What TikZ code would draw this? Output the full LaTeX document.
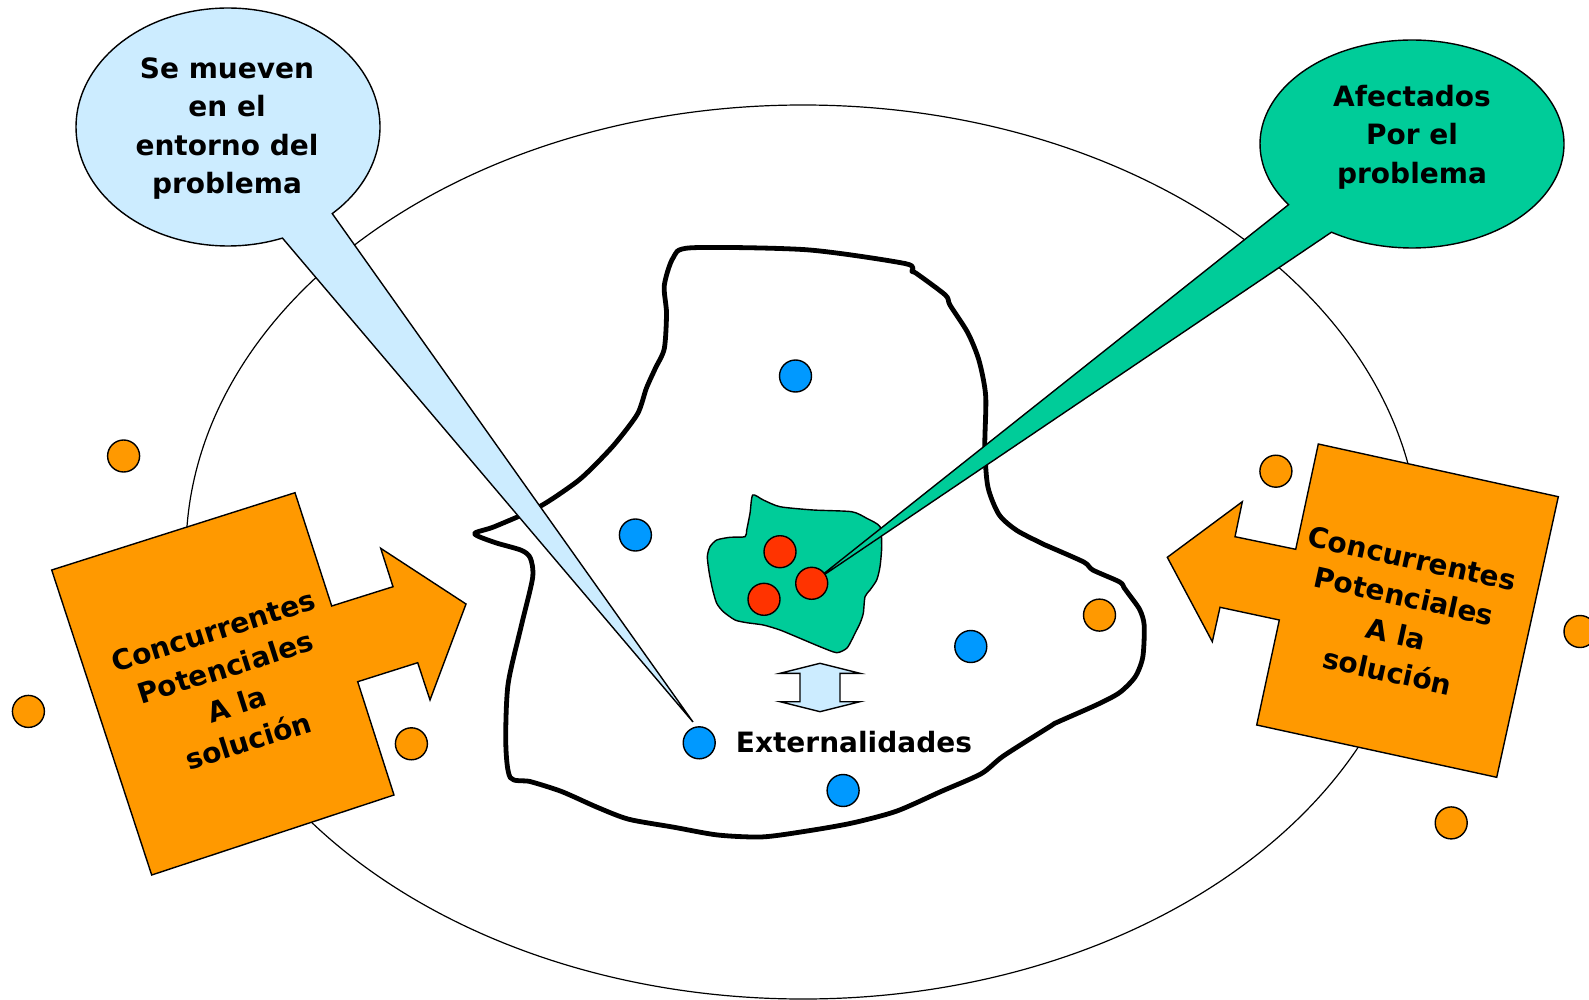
\documentclass[tikz,border=0pt]{standalone}
\usepackage{fontspec}
\setmainfont{DejaVu Sans}
\definecolor{callblue}{HTML}{CCECFF}
\definecolor{callgreen}{HTML}{00CC99}
\definecolor{orng}{HTML}{FF9900}
\definecolor{dotblue}{HTML}{0099FF}
\definecolor{dotred}{HTML}{FF3300}
\tikzset{
  outl/.style={draw=black,line width=1.4pt,line join=miter},
  bluedot/.style={circle,draw=black,line width=1.4pt,fill=dotblue,minimum size=32pt,inner sep=0pt},
  orangedot/.style={circle,draw=black,line width=1.4pt,fill=orng,minimum size=32pt,inner sep=0pt},
  reddot/.style={circle,draw=black,line width=1.4pt,fill=dotred,minimum size=32pt,inner sep=0pt},
  lbl/.style={font=\fontsize{28}{38.5}\selectfont\bfseries,align=center,inner sep=0pt},
}
\begin{document}
\begin{tikzpicture}[x=1pt,y=-1pt]
\useasboundingbox[fill=white] (0,0) rectangle (1589,1000);
% big ellipse
\draw[line width=1.2pt] (803,552) ellipse [x radius=617pt, y radius=447pt];
% left orange arrow box
\draw[outl,fill=orng] (51.7,570) -- (295,492.7) -- (331.7,606) -- (393,586.7) -- (380.7,548.3) -- (466,604) -- (430,700) -- (417.7,662.7) -- (357.7,681.7) -- (394,795) -- (151.7,875) -- cycle;
\node[lbl,rotate=17.6] (leftconc) at (231,686) {Concurrentes\\Potenciales\\A la\\solución};
% right orange arrow box
\draw[outl,fill=orng] (1318.3,444) -- (1558.3,496.7) -- (1496.7,777.3) -- (1256.7,725) -- (1279.3,620) -- (1220,607.3) -- (1212.3,641.7) -- (1167.3,557.3) -- (1242.3,501.7) -- (1235,536.7) -- (1295.7,549.3) -- cycle;
\node[lbl,rotate=-12.4] (rightconc) at (1400,615) {Concurrentes\\Potenciales\\A la\\solución};
% irregular region
\draw[line width=4.8pt,fill=white,line join=round] plot[smooth cycle,tension=0.45] coordinates {
(664.3,285.4) (673.2,257.7) (691.1,247.8) (807.1,249.8) (905.3,263.6) (912.0,271.5) (916.5,273.5)
(945.5,295.2) (950.0,305.1) (967.8,332.8) (979.0,360.5) (985.7,396.1) (984.8,447.5) (987.9,487.0)
(999.1,514.7) (1016.9,530.5) (1043.7,544.3) (1048.2,546.3) (1083.9,562.1) (1092.8,570.0) (1119.6,581.9)
(1124.1,587.8) (1128.5,593.8) (1139.7,609.6) (1144.2,625.4) (1142.8,657.0) (1135.2,676.8) (1119.6,692.6)
(1097.3,704.5) (1057.1,722.3) (1050.4,726.2) (1003.5,755.9) (981.2,773.7) (941.0,791.5) (896.4,811.2)
(851.8,823.1) (807.1,831.0) (762.5,836.9) (717.8,835.0) (673.2,827.1) (628.6,819.2) (597.3,807.3)
(561.6,791.5) (530.4,781.6) (510.3,777.6) (505.8,744.0) (508.0,684.7) (521.4,625.4) (532.6,577.9)
(530.4,558.2) (521.4,550.3) (494.6,542.4) (474.6,533.7) (494.6,526.6) (539.3,506.8) (575.0,483.1)
(592.8,467.2) (615.2,443.5) (637.5,413.9) (646.4,388.2) (655.3,368.4) (664.3,348.6) (666.5,313.0)};
% green region
\draw[line width=1.4pt,fill=callgreen] plot[smooth cycle,tension=0.4] coordinates {
(752.7,495) (763.3,500) (780,506.7) (813.3,510) (851.7,511.7) (866.7,518.3) (880,526.7) (881.7,546.7)
(880,566.7) (876.7,580) (870,590) (865,596.7) (863.3,613.3) (860,623.3) (855,633.3) (851.7,640)
(846.7,648.3) (836.7,652.7) (820,646.7) (800,638.3) (780,630) (763.3,625) (746.7,622.7) (735,620)
(723.3,611.7) (716.7,603.3) (712.7,590) (709.3,573.3) (707.3,556.7) (710,546.7) (716.7,540) (730,537.3)
(745,536.7) (746.7,530) (750,513.3)};
% double arrow
\draw[line width=1.4pt,fill=callblue,line join=miter] (820,663.3) -- (860,673.3) -- (840,673.3) -- (840,701.7) -- (860,701.7) -- (820,711.7) -- (780,701.7) -- (800,701.7) -- (800,673.3) -- (780,673.3) -- cycle;
\node[lbl,anchor=west] (ext) at (735.7,742) {Externalidades};
% left callout
\draw[outl,fill=callblue] plot[domain=69:406.7,samples=150] ({228+152*cos(\x)},{127+119*sin(\x)}) -- (693,722) -- cycle;
\node[lbl] (lefttxt) at (227,128.5) {Se mueven\\en el\\entorno del\\problema};
% right callout
\draw[outl,fill=callgreen] plot[domain=144.3:482,samples=150] ({1412+152*cos(\x)},{144+104*sin(\x)}) -- (812,583) -- cycle;
\node[lbl] (righttxt) at (1412,137) {Afectados\\Por el\\problema};
% red dots
\node[reddot] (r1) at (780,551.7) {};
\node[reddot] (r2) at (811.7,583.3) {};
\node[reddot] (r3) at (764,599.3) {};
% blue dots
\node[bluedot] (b1) at (795.5,376) {};
\node[bluedot] (b2) at (635.4,535) {};
\node[bluedot] (b3) at (970.8,646.5) {};
\node[bluedot] (b4) at (699.2,742.8) {};
\node[bluedot] (b5) at (843.1,790.5) {};
% orange dots
\node[orangedot] (o1) at (123.6,456) {};
\node[orangedot] (o2) at (28.4,711.4) {};
\node[orangedot] (o3) at (411.4,743.8) {};
\node[orangedot] (o4) at (1099.5,615.1) {};
\node[orangedot] (o5) at (1275.9,471.2) {};
\node[orangedot] (o6) at (1580,631.5) {};
\node[orangedot] (o7) at (1451.2,822.9) {};
\end{tikzpicture}
\end{document}
